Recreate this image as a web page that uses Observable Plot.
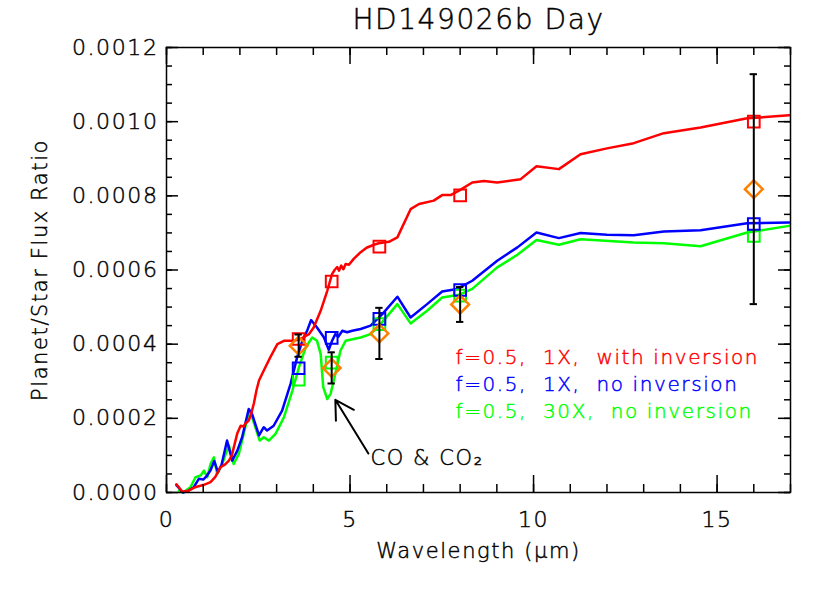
<!DOCTYPE html>
<html><head><meta charset="utf-8">
<script src="https://cdn.jsdelivr.net/npm/d3@7"></script>
<script src="https://cdn.jsdelivr.net/npm/@observablehq/plot@0.6"></script>
<style>
html,body{margin:0;padding:0;background:#fff;}
svg text{letter-spacing:1.6px;}
</style></head><body><div id="chart"></div>
<script>
// ---------- text ----------
const titleText = "HD149026b Day";
const xLabel = "Wavelength (\u03bcm)";
const yLabel = "Planet/Star Flux Ratio";
const legendLabels = [
  "f=0.5,\u00a0\u00a01X,\u00a0\u00a0with inversion",
  "f=0.5,\u00a0\u00a01X,\u00a0\u00a0no inversion",
  "f=0.5,\u00a0\u00a030X,\u00a0\u00a0no inversion"
];
const legendColors = ["#ff0000", "#0000ff", "#00ff00"];
const noteText = "CO & CO\u2082";
const noteArrow = [{x1: 5.5, y1: 0.000105, x2: 4.6, y2: 0.000250}];

// ---------- ticks ----------
const xMajorTicks = [0, 5, 10, 15];
const xMinorTicks = [0,1,2,3,4,5,6,7,8,9,10,11,12,13,14,15,16,17];
const yMajorTicks = [0, 0.0002, 0.0004, 0.0006, 0.0008, 0.0010, 0.0012];
const yMinorTicks = [0,0.00005,0.0001,0.00015,0.0002,0.00025,0.0003,0.00035,0.0004,0.00045,0.0005,0.00055,
  0.0006,0.00065,0.0007,0.00075,0.0008,0.00085,0.0009,0.00095,0.001,0.00105,0.0011,0.00115,0.0012];

// ---------- model spectra (flux in units of 1e-4) ----------
const redWl = [0.27,0.43,0.6,0.8,1.0,1.2,1.33,1.47,1.6,1.7,1.78,1.93,2.02,2.1,2.15,2.24,2.3,2.38,2.45,2.52,2.65,2.83,3.02,3.2,3.47,3.65,3.88,4.01,4.2,4.38,4.51,4.58,4.65,4.7,4.76,4.82,4.88,4.97,5.1,5.29,5.45,5.65,5.78,6.06,6.29,6.65,6.88,7.28,7.51,7.74,7.97,8.33,8.65,9.01,9.65,10.08,10.69,11.28,12.0,12.73,13.55,14.55,15.82,16.96];
const redFlux = [0.22,0.02,0.05,0.15,0.2,0.28,0.42,0.68,0.76,0.86,1.0,1.6,1.8,1.78,1.86,1.94,2.1,2.4,2.75,3.02,3.29,3.65,4.0,4.09,4.09,4.14,4.27,4.45,4.9,5.44,5.89,6.0,6.08,5.98,6.12,6.02,6.16,6.14,6.3,6.48,6.6,6.68,6.72,6.76,6.88,7.64,7.78,7.87,8.02,8.02,8.14,8.36,8.4,8.36,8.45,8.8,8.72,9.12,9.28,9.42,9.69,9.84,10.09,10.17];

const blueWl = [0.27,0.45,0.6,0.74,0.88,1.0,1.1,1.2,1.3,1.4,1.5,1.65,1.79,1.93,2.06,2.24,2.33,2.52,2.65,2.74,2.92,3.15,3.38,3.56,3.7,3.83,3.94,4.1,4.29,4.42,4.51,4.6,4.68,4.79,4.92,5.06,5.29,5.56,5.88,6.29,6.65,7.1,7.51,7.92,8.33,9.01,9.56,10.08,10.69,11.28,12.0,12.73,13.55,14.55,15.82,16.96];
const blueFlux = [0.2,0.0,0.05,0.14,0.37,0.35,0.45,0.6,0.85,0.55,0.75,1.4,0.86,1.13,1.49,2.25,2.12,1.54,1.76,1.67,1.8,2.21,2.93,3.65,4.09,4.36,4.65,4.45,4.18,3.85,4.09,4.27,4.2,4.36,4.32,4.36,4.41,4.5,4.81,5.28,4.72,5.08,5.42,5.49,5.71,6.25,6.61,7.01,6.86,7.0,6.95,6.94,7.04,7.07,7.26,7.28];

const greenWl = [0.34,0.45,0.65,0.79,0.93,1.02,1.11,1.2,1.29,1.38,1.52,1.7,1.83,1.97,2.06,2.24,2.33,2.54,2.65,2.79,2.97,3.2,3.43,3.61,3.79,3.97,4.1,4.2,4.27,4.38,4.47,4.6,4.74,4.88,5.1,5.29,5.56,5.83,6.29,6.65,7.1,7.51,7.97,8.33,9.01,9.56,10.08,10.69,11.28,12.73,13.55,14.55,15.82,16.96];
const greenFlux = [0.05,0.0,0.14,0.41,0.46,0.59,0.41,0.77,0.95,0.5,0.77,1.27,0.77,1.04,1.4,2.16,2.03,1.4,1.49,1.4,1.58,2.03,2.75,3.38,3.91,4.18,4.09,3.74,2.84,2.52,2.66,3.2,3.83,4.09,4.14,4.18,4.27,4.54,5.08,4.56,4.9,5.26,5.33,5.49,6.07,6.41,6.81,6.68,6.83,6.74,6.72,6.64,7.01,7.19];

// ---------- band-integrated model points (units of 1e-4) ----------
const bandWl = [3.6, 4.5, 5.8, 8.0, 16.0];
const redBand = [4.14, 5.69, 6.63, 8.01, 10.0];
const blueBand = [3.35, 4.17, 4.68, 5.46, 7.24];
const greenBand = [3.04, 3.50, 4.54, 5.31, 6.92];

// ---------- observations (units of 1e-4) ----------
const obsWl = [3.6, 4.5, 5.8, 8.0, 16.0];
const obsFlux = [3.96, 3.36, 4.29, 5.07, 8.18];
const obsErr = [0.30, 0.42, 0.69, 0.47, 3.10];

const unit = 1e-4;
const toPts = (wl, f) => wl.map((w, i) => ({wl: w, f: f[i] * unit}));
const models = [
  {color: "#00ff00", line: toPts(greenWl, greenFlux), band: toPts(bandWl, greenBand)},
  {color: "#0000ff", line: toPts(blueWl, blueFlux), band: toPts(bandWl, blueBand)},
  {color: "#ff0000", line: toPts(redWl, redFlux), band: toPts(bandWl, redBand)}
];
const obs = obsWl.map((w, i) => ({wl: w, f: obsFlux[i] * unit, lo: (obsFlux[i] - obsErr[i]) * unit, hi: (obsFlux[i] + obsErr[i]) * unit}));

const W = 830, H = 593, mL = 166, mR = 40, mT = 47, mB = 101;
const fw = W - mL - mR, fh = H - mT - mB;
const font = "DejaVu Sans";
const capHalf = 0.1;

const marks = [];
models.forEach(m => marks.push(Plot.line(m.line, {x: "wl", y: "f", stroke: m.color, strokeWidth: 2.5})));
models.forEach(m => marks.push(Plot.dot(m.band, {x: "wl", y: "f", symbol: "square", r: 6.6, stroke: m.color, strokeWidth: 2, fill: "none"})));
marks.push(Plot.dot(obs, {x: "wl", y: "f", symbol: "diamond2", r: 8, stroke: "#ff8000", strokeWidth: 2.5, fill: "none"}));
marks.push(Plot.ruleX(obs, {x: "wl", y1: "lo", y2: "hi", stroke: "black", strokeWidth: 2}));
marks.push(Plot.ruleY(obs, {y: "hi", x1: d => d.wl - capHalf, x2: d => d.wl + capHalf, stroke: "black", strokeWidth: 2}));
marks.push(Plot.ruleY(obs, {y: "lo", x1: d => d.wl - capHalf, x2: d => d.wl + capHalf, stroke: "black", strokeWidth: 2}));

// inward ticks on all four sides
marks.push(Plot.ruleX(xMinorTicks, {x: d => d, insetTop: fh - 8, stroke: "black", strokeWidth: 1.5}));
marks.push(Plot.ruleX(xMajorTicks, {x: d => d, insetTop: fh - 17, stroke: "black", strokeWidth: 1.5}));
marks.push(Plot.ruleX(xMinorTicks, {x: d => d, insetBottom: fh - 8, stroke: "black", strokeWidth: 1.5}));
marks.push(Plot.ruleX(xMajorTicks, {x: d => d, insetBottom: fh - 17, stroke: "black", strokeWidth: 1.5}));
marks.push(Plot.ruleY(yMinorTicks, {y: d => d, insetRight: fw - 6, stroke: "black", strokeWidth: 1.5}));
marks.push(Plot.ruleY(yMajorTicks, {y: d => d, insetRight: fw - 12, stroke: "black", strokeWidth: 1.5}));
marks.push(Plot.ruleY(yMinorTicks, {y: d => d, insetLeft: fw - 6, stroke: "black", strokeWidth: 1.5}));
marks.push(Plot.ruleY(yMajorTicks, {y: d => d, insetLeft: fw - 12, stroke: "black", strokeWidth: 1.5}));
marks.push(Plot.frame({stroke: "black", strokeWidth: 1.5}));

marks.push(Plot.axisX(xMajorTicks, {anchor: "bottom", tickSize: 0, tickPadding: 19, fontSize: 22, label: null, fill: "black"}));
marks.push(Plot.axisY(yMajorTicks, {anchor: "left", tickSize: 0, tickPadding: 8, fontSize: 22, label: null, tickFormat: d3.format(".4f"), fill: "black"}));

// titles
marks.push(Plot.text([titleText], {frameAnchor: "top", dy: -27, text: d => d, fontSize: 28, lineAnchor: "middle", fill: "black"}));
marks.push(Plot.text([xLabel], {frameAnchor: "bottom", dy: 59, text: d => d, fontSize: 21, lineAnchor: "middle", fill: "black"}));
marks.push(Plot.text([yLabel], {frameAnchor: "left", dx: -126, text: d => d, fontSize: 21, rotate: -90, textAnchor: "middle", lineAnchor: "middle", fill: "black"}));

// legend
legendLabels.forEach((t, i) => marks.push(Plot.text([t], {frameAnchor: "top-left", dx: 289, dy: 310.5 + 27 * i, text: d => d, textAnchor: "start", lineAnchor: "middle", fontSize: 20, fill: legendColors[i]})));

// annotation
marks.push(Plot.arrow(noteArrow, {x1: "x1", y1: "y1", x2: "x2", y2: "y2", stroke: "black", strokeWidth: 2, headLength: 25, headAngle: 60}));
marks.push(Plot.text(noteArrow, {x: "x1", y: "y1", text: () => noteText, textAnchor: "start", lineAnchor: "middle", dx: 2, dy: 5, fontSize: 21, fill: "black"}));

const chart = Plot.plot({
  width: W, height: H,
  marginLeft: mL, marginRight: mR, marginTop: mT, marginBottom: mB,
  x: {domain: [0, 17], axis: null},
  y: {domain: [0, 0.0012], axis: null},
  style: {fontFamily: font, background: "white", color: "black", fontWeight: 300},
  marks
});
// slightly embolden the thin glyphs with a stroke in their own colour
d3.select(chart).selectAll("text").each(function() {
  let f = this.getAttribute("fill"), p = this.parentNode;
  while (!f && p && p.getAttribute) { f = p.getAttribute("fill"); p = p.parentNode; }
  if (!f || f === "currentColor") f = "black";
  this.setAttribute("stroke", f);
  this.setAttribute("stroke-width", 0.45);
});
document.getElementById("chart").appendChild(chart);
</script>
</body></html>
